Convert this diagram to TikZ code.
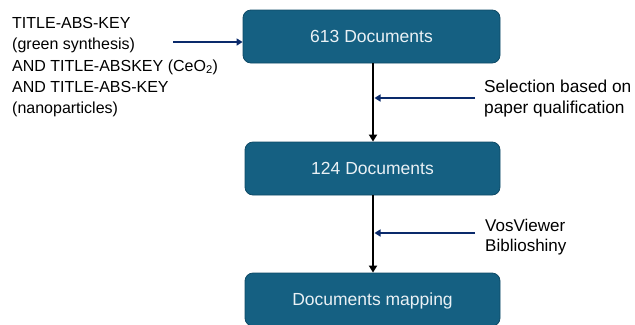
\documentclass[tikz,border=0pt]{standalone}
\usepackage{fontspec}
\setmainfont{Liberation Sans}
\usetikzlibrary{arrows.meta,calc}
\definecolor{boxfill}{HTML}{156082}
\definecolor{boxline}{HTML}{0E4A66}
\definecolor{navy}{HTML}{0A2A6B}
\definecolor{boxtext}{HTML}{EAF1F5}
\tikzset{
  docbox/.style={draw=boxline, line width=0.8bp, fill=boxfill, rounded corners=8bp,
    text=boxtext, font=\fontsize{17.5bp}{20bp}\selectfont, inner sep=0pt},
  flow/.style={draw=black, line width=2.4bp, -{Triangle[length=7bp,width=8bp]}},
  feed/.style={draw=navy, line width=2.2bp, -{Triangle[length=6bp,width=7bp]}},
  lbl/.style={inner sep=0pt, align=left, text=black}
}
\begin{document}
\begin{tikzpicture}[x=1bp,y=-1bp]
\useasboundingbox (0,0) rectangle (635,324);
\node[docbox, minimum width=257bp, minimum height=53bp] (b1) at (371.5,36.5) {613 Documents};
\node[docbox, minimum width=255bp, minimum height=53bp] (b2) at (372.5,168.5) {124 Documents};
\node[docbox, minimum width=255bp, minimum height=53bp, text depth=0pt, text height=12.5bp] (b3) at (372.5,299.5) {Documents mapping};
\draw[flow] (b1.south -| 373,0) -- (b2.north -| 373,0);
\draw[flow] (b2.south -| 373,0) -- (b3.north -| 373,0);
\coordinate (j1) at (374.5,98);
\coordinate (s1) at (475,98);
\coordinate (j2) at (374.5,233);
\coordinate (s2) at (475,233);
\coordinate (s0) at (173,42);
\draw[feed] (s1) -- (j1);
\draw[feed] (s2) -- (j2);
\draw[feed] (s0) -- (b1.west |- s0);
\node[lbl, anchor=west, font=\fontsize{16bp}{21.4bp}\selectfont] (q) at (12,67.1)
  {TITLE-ABS-KEY\\(green synthesis)\\AND TITLE-ABSKEY (CeO\textsubscript{2})\\AND TITLE-ABS-KEY\\(nanoparticles)};
\node[lbl, anchor=west, font=\fontsize{17.3bp}{20.5bp}\selectfont] (t1) at (484,98.5)
  {Selection based on\\paper qualification};
\node[lbl, anchor=west, font=\fontsize{17bp}{20.5bp}\selectfont] (t2) at (485,236.9)
  {VosViewer\\Biblioshiny};
\end{tikzpicture}
\end{document}
